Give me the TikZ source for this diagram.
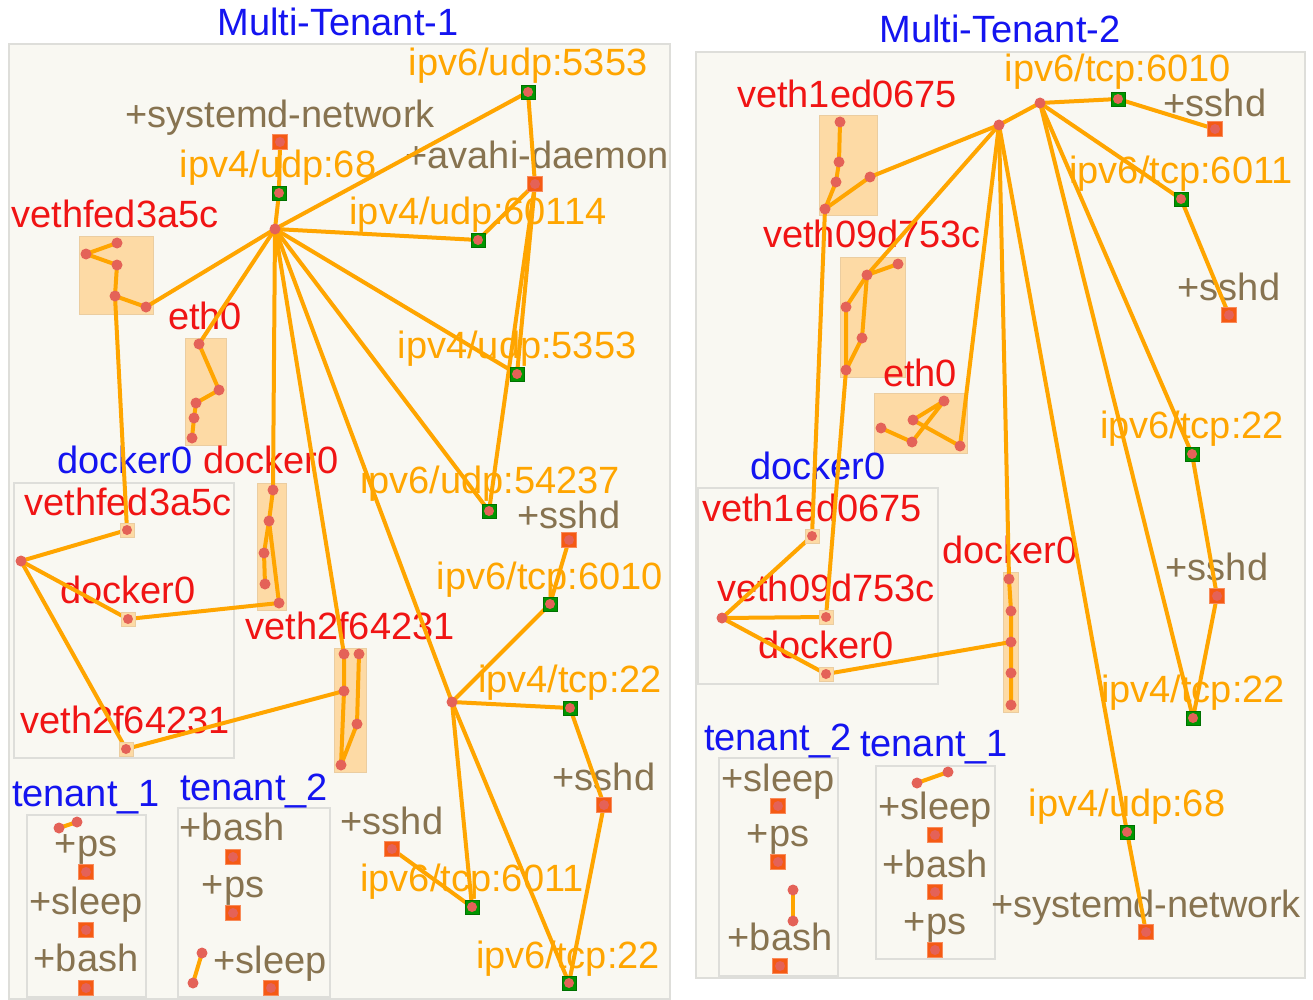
\documentclass[tikz,border=0pt]{standalone}
\usepackage{fontspec}
\setmainfont{Liberation Sans}
\definecolor{tblue}{RGB}{20,20,240}
\definecolor{tred}{RGB}{240,20,20}
\definecolor{tport}{RGB}{255,165,0}
\definecolor{tproc}{RGB}{135,115,80}
\definecolor{wirec}{RGB}{255,165,0}
\definecolor{dotc}{RGB}{228,98,88}
\definecolor{sqgreen}{RGB}{0,150,0}
\definecolor{sqorange}{RGB}{245,90,20}
\definecolor{peach}{RGB}{253,218,165}
\definecolor{peachline}{RGB}{235,205,160}
\definecolor{panelbg}{RGB}{249,248,242}
\definecolor{panelline}{RGB}{222,222,218}
\pgfdeclarelayer{back}
\pgfdeclarelayer{lbl}
\pgfdeclarelayer{wires}
\pgfsetlayers{back,lbl,wires,main}
\begin{document}
\begin{tikzpicture}[x=1pt,y=-1pt,
  every node/.style={inner sep=0pt,outer sep=0pt},
  txt/.style={font=\fontsize{38}{40}\selectfont,text height=27pt,text depth=0pt,anchor=center},
  grpname/.style={txt,text=tblue},
  ifname/.style={txt,text=tred},
  portname/.style={txt,text=tport},
  procname/.style={txt,text=tproc},
  innerdot/.style={path picture={\fill[dotc] (path picture bounding box.center) circle (5pt);}},
  dot/.style={circle,fill=dotc,minimum size=11pt},
  gsq/.style={rectangle,fill=sqgreen,draw=sqgreen!75!black,line width=0.6pt,minimum size=14pt,innerdot},
  osq/.style={rectangle,fill=sqorange,draw=sqorange!70!white,line width=0.6pt,minimum size=15pt,innerdot},
  psq/.style={rectangle,fill=peach,draw=peachline,line width=0.6pt,minimum size=14pt,innerdot},
  wire/.style={draw=wirec,line width=4pt,line cap=round,line join=round},
  panel/.style={fill=panelbg,draw=panelline,line width=1.6pt},
  grp/.style={draw=panelline,line width=1.3pt},
  pbox/.style={fill=peach,draw=peachline,line width=0.8pt}]

\useasboundingbox (0,0) rectangle (1313,1000);

% ---------- frames ----------
\begin{pgfonlayer}{back}
  \fill[white] (0,0) rectangle (1313,1000);
  \path[panel] (9,44) rectangle (670,999);
  \path[panel] (696,52) rectangle (1305,978);
  % Multi-Tenant-1 groups
  \path[pbox] (79,236) rectangle (153,314);
  \path[pbox] (185,338) rectangle (226,445);
  \path[grp] (14,483) rectangle (234,758);
  \path[pbox] (257,483) rectangle (286,610);
  \path[pbox] (334,648) rectangle (366,772);
  \path[grp] (27,815) rectangle (146,997);
  \path[grp] (178,808) rectangle (330,997);
  % Multi-Tenant-2 groups
  \path[pbox] (819,115) rectangle (877,215);
  \path[pbox] (840,257) rectangle (905,377);
  \path[pbox] (874,393) rectangle (967,453);
  \path[grp] (698,488) rectangle (938,684);
  \path[pbox] (1003,572) rectangle (1018,712);
  \path[grp] (719,758) rectangle (838,976);
  \path[grp] (876,766) rectangle (995,959);
\end{pgfonlayer}

% ---------- labels ----------
\begin{pgfonlayer}{lbl}
  \node[grpname] (title1) at (338,22) {Multi-Tenant-1};
  \node[procname] (lsysdA) at (280,114) {+systemd-network};
  \node[portname] (lu68A) at (278,164) {ipv4/udp:68};
  \node[portname] (lu5353sixA) at (528,62) {ipv6/udp:5353};
  \node[procname] (lavahiA) at (537,155) {+avahi-daemon};
  \node[portname] (lu60114A) at (478,211) {ipv4/udp:60114};
  \node[ifname] (lvethfedA) at (115,214) {vethfed3a5c};
  \node[ifname] (leth0A) at (205,316) {eth0};
  \node[portname] (lu5353fourA) at (517,345) {ipv4/udp:5353};
  \node[grpname] (ldockerA) at (125,460) {docker0};
  \node[ifname] (ldkA) at (271,460) {docker0};
  \node[portname] (lu54237A) at (490,480) {ipv6/udp:54237};
  \node[procname] (lsshdA1) at (569,515) {+sshd};
  \node[ifname] (livethfedA) at (128,502) {vethfed3a5c};
  \node[ifname] (lidkA) at (128,590) {docker0};
  \node[portname] (lt6010A) at (550,576) {ipv6/tcp:6010};
  \node[ifname] (lveth2A) at (350,626) {veth2f64231};
  \node[portname] (lt22fourA) at (570,679) {ipv4/tcp:22};
  \node[ifname] (liveth2A) at (125,720) {veth2f64231};
  \node[procname] (lsshdA2) at (604,777) {+sshd};
  \node[grpname] (ltenA1) at (86,793) {tenant\_1};
  \node[grpname] (ltenA2) at (254,787) {tenant\_2};
  \node[procname] (lsshdA3) at (392,821) {+sshd};
  \node[portname] (lt6011A) at (472,878) {ipv6/tcp:6011};
  \node[portname] (lt22sixA) at (568,955) {ipv6/tcp:22};
  \node[procname] (lpsA1) at (86,843) {+ps};
  \node[procname] (lsleepA1) at (86,901) {+sleep};
  \node[procname] (lbashA1) at (86,958) {+bash};
  \node[procname] (lbashA2) at (232,827) {+bash};
  \node[procname] (lpsA2) at (233,884) {+ps};
  \node[procname] (lsleepA2) at (270,960) {+sleep};

  \node[grpname] (title2) at (1000,29) {Multi-Tenant-2};
  \node[ifname] (lveth1edB) at (847,94) {veth1ed0675};
  \node[portname] (lt6010B) at (1118,68) {ipv6/tcp:6010};
  \node[procname] (lsshdB1) at (1215,103) {+sshd};
  \node[portname] (lt6011B) at (1181,170) {ipv6/tcp:6011};
  \node[ifname] (lveth09B) at (872,234) {veth09d753c};
  \node[procname] (lsshdB2) at (1229,287) {+sshd};
  \node[ifname] (leth0B) at (920,373) {eth0};
  \node[portname] (lt22sixB) at (1192,425) {ipv6/tcp:22};
  \node[grpname] (ldockerB) at (818,466) {docker0};
  \node[ifname] (liveth1edB) at (812,508) {veth1ed0675};
  \node[ifname] (ldkB) at (1010,550) {docker0};
  \node[procname] (lsshdB3) at (1217,567) {+sshd};
  \node[ifname] (liveth09B) at (826,588) {veth09d753c};
  \node[ifname] (lidkB) at (826,645) {docker0};
  \node[portname] (lt22fourB) at (1193,689) {ipv4/tcp:22};
  \node[grpname] (ltenB2) at (778,737) {tenant\_2};
  \node[grpname] (ltenB1) at (934,743) {tenant\_1};
  \node[portname] (lu68B) at (1127,803) {ipv4/udp:68};
  \node[procname] (lsysdB) at (1146,904) {+systemd-network};
  \node[procname] (lsleepB2) at (778,778) {+sleep};
  \node[procname] (lpsB2) at (778,833) {+ps};
  \node[procname] (lbashB2) at (780,937) {+bash};
  \node[procname] (lsleepB1) at (935,806) {+sleep};
  \node[procname] (lbashB1) at (935,864) {+bash};
  \node[procname] (lpsB1) at (935,921) {+ps};
\end{pgfonlayer}

% ---------- Multi-Tenant-1 nodes ----------
\node[dot] (hA) at (275,229) {};
\node[osq] (sysdA) at (280,142) {};
\node[gsq] (u68A) at (279,193) {};
\node[gsq] (u5353sixA) at (528,92) {};
\node[osq] (avahiA) at (535,184) {};
\node[gsq] (u60114A) at (478,240) {};
\node[gsq] (u5353fourA) at (517,374) {};
\node[gsq] (u54237A) at (489,511) {};
\node[dot] (va) at (117,243) {};
\node[dot] (vb) at (86,254) {};
\node[dot] (vc) at (117,265) {};
\node[dot] (vd) at (115,296) {};
\node[dot] (ve) at (146,307) {};
\node[dot] (ea) at (199,344) {};
\node[dot] (eb) at (219,390) {};
\node[dot] (ec) at (196,403) {};
\node[dot] (ed) at (194,418) {};
\node[dot] (ee) at (192,438) {};
\node[psq] (inA1) at (127,530) {};
\node[dot] (hdkA) at (21,561) {};
\node[psq] (inA2) at (128,619) {};
\node[psq] (inA3) at (126,749) {};
\node[dot] (da) at (273,490) {};
\node[dot] (db) at (269,521) {};
\node[dot] (dc) at (264,553) {};
\node[dot] (dd) at (265,584) {};
\node[dot] (de) at (279,603) {};
\node[dot] (wa) at (344,654) {};
\node[dot] (wb) at (359,654) {};
\node[dot] (wc) at (344,691) {};
\node[dot] (wd) at (357,724) {};
\node[dot] (we) at (341,765) {};
\node[dot] (hB) at (452,702) {};
\node[osq] (sshdA1) at (569,540) {};
\node[gsq] (t6010A) at (550,604) {};
\node[gsq] (t22fourA) at (570,708) {};
\node[osq] (sshdA2) at (604,805) {};
\node[osq] (sshdA3) at (392,849) {};
\node[gsq] (t6011A) at (472,907) {};
\node[gsq] (t22sixA) at (569,983) {};
\node[dot] (ta) at (59,828) {};
\node[dot] (tb) at (77,822) {};
\node[osq] (psA1) at (86,872) {};
\node[osq] (sleepA1) at (86,930) {};
\node[osq] (bashA1) at (86,988) {};
\node[osq] (bashA2) at (233,857) {};
\node[osq] (psA2) at (233,913) {};
\node[osq] (sleepA2) at (271,988) {};
\node[dot] (tc) at (202,953) {};
\node[dot] (td) at (193,983) {};

% ---------- Multi-Tenant-2 nodes ----------
\node[dot] (hC) at (999,125) {};
\node[dot] (hD) at (1040,103) {};
\node[gsq] (t6010B) at (1118,99) {};
\node[osq] (sshdB1) at (1215,129) {};
\node[gsq] (t6011B) at (1181,199) {};
\node[osq] (sshdB2) at (1229,315) {};
\node[gsq] (t22sixB) at (1192,454) {};
\node[osq] (sshdB3) at (1217,596) {};
\node[gsq] (t22fourB) at (1193,718) {};
\node[gsq] (u68B) at (1127,832) {};
\node[osq] (sysdB) at (1146,932) {};
\node[dot] (pa) at (840,122) {};
\node[dot] (pb) at (839,162) {};
\node[dot] (pc) at (836,182) {};
\node[dot] (pd) at (870,177) {};
\node[dot] (pe) at (825,209) {};
\node[dot] (qa) at (898,264) {};
\node[dot] (qb) at (867,275) {};
\node[dot] (qc) at (846,307) {};
\node[dot] (qd) at (862,338) {};
\node[dot] (qe) at (846,370) {};
\node[dot] (ra) at (944,401) {};
\node[dot] (rb) at (913,420) {};
\node[dot] (rc) at (881,428) {};
\node[dot] (rd) at (912,442) {};
\node[dot] (re) at (960,446) {};
\node[psq] (inB1) at (812,536) {};
\node[dot] (hdkB) at (722,618) {};
\node[psq] (inB2) at (826,617) {};
\node[psq] (inB3) at (826,674) {};
\node[dot] (sa) at (1009,579) {};
\node[dot] (sb) at (1011,611) {};
\node[dot] (sc) at (1011,642) {};
\node[dot] (sd) at (1011,673) {};
\node[dot] (se) at (1011,705) {};
\node[osq] (sleepB2) at (778,806) {};
\node[osq] (psB2) at (778,862) {};
\node[dot] (ua) at (793,890) {};
\node[dot] (ub) at (793,921) {};
\node[osq] (bashB2) at (780,966) {};
\node[dot] (uc) at (917,783) {};
\node[dot] (ud) at (948,772) {};
\node[osq] (sleepB1) at (935,835) {};
\node[osq] (bashB1) at (935,892) {};
\node[osq] (psB1) at (935,950) {};

% ---------- connectors ----------
\begin{pgfonlayer}{wires}
  % Multi-Tenant-1
  \draw[wire] (sysdA.center) -- (u68A.center) -- (hA.center);
  \draw[wire] (hA.center) -- (u5353sixA.center);
  \draw[wire] (hA.center) -- (u60114A.center);
  \draw[wire] (hA.center) -- (u5353fourA.center);
  \draw[wire] (hA.center) -- (u54237A.center);
  \draw[wire] (avahiA.center) -- (u5353sixA.center);
  \draw[wire] (avahiA.center) -- (u60114A.center);
  \draw[wire] (avahiA.center) -- (u5353fourA.center);
  \draw[wire] (avahiA.center) -- (u54237A.center);
  \draw[wire] (hA.center) -- (ve.center) -- (vd.center) -- (vc.center) -- (vb.center) -- (va.center);
  \draw[wire] (vd.center) -- (inA1.center);
  \draw[wire] (hA.center) -- (ea.center) -- (eb.center) -- (ec.center) -- (ed.center) -- (ee.center);
  \draw[wire] (hA.center) -- (da.center) -- (db.center) -- (dc.center) -- (dd.center);
  \draw[wire] (db.center) -- (de.center) -- (inA2.center);
  \draw[wire] (hA.center) -- (wa.center) -- (wc.center) -- (we.center) -- (wd.center) -- (wb.center);
  \draw[wire] (wc.center) -- (inA3.center);
  \draw[wire] (hdkA.center) -- (inA1.center);
  \draw[wire] (hdkA.center) -- (inA2.center);
  \draw[wire] (hdkA.center) -- (inA3.center);
  \draw[wire] (hA.center) -- (hB.center);
  \draw[wire] (hB.center) -- (t6010A.center) -- (sshdA1.center);
  \draw[wire] (hB.center) -- (t22fourA.center) -- (sshdA2.center) -- (t22sixA.center);
  \draw[wire] (hB.center) -- (t22sixA.center);
  \draw[wire] (hB.center) -- (t6011A.center) -- (sshdA3.center);
  \draw[wire] (ta.center) -- (tb.center);
  \draw[wire] (tc.center) -- (td.center);
  % Multi-Tenant-2
  \draw[wire] (hC.center) -- (hD.center);
  \draw[wire] (hD.center) -- (t6010B.center) -- (sshdB1.center);
  \draw[wire] (hD.center) -- (t6011B.center) -- (sshdB2.center);
  \draw[wire] (hD.center) -- (t22sixB.center) -- (sshdB3.center) -- (t22fourB.center);
  \draw[wire] (hD.center) -- (t22fourB.center);
  \draw[wire] (hC.center) -- (u68B.center) -- (sysdB.center);
  \draw[wire] (hC.center) -- (sa.center) -- (sb.center) -- (sc.center) -- (sd.center) -- (se.center);
  \draw[wire] (sc.center) -- (inB3.center);
  \draw[wire] (hC.center) -- (pd.center) -- (pe.center) -- (pc.center) -- (pb.center) -- (pa.center);
  \draw[wire] (pe.center) -- (inB1.center);
  \draw[wire] (hC.center) -- (qb.center) -- (qa.center);
  \draw[wire] (qb.center) -- (qc.center) -- (qe.center);
  \draw[wire] (qb.center) -- (qd.center) -- (qe.center);
  \draw[wire] (qe.center) -- (inB2.center);
  \draw[wire] (hC.center) -- (re.center) -- (rb.center) -- (ra.center) -- (rd.center) -- (rc.center);
  \draw[wire] (hdkB.center) -- (inB1.center);
  \draw[wire] (hdkB.center) -- (inB2.center);
  \draw[wire] (hdkB.center) -- (inB3.center);
  \draw[wire] (ua.center) -- (ub.center);
  \draw[wire] (uc.center) -- (ud.center);
\end{pgfonlayer}
\end{tikzpicture}
\end{document}
